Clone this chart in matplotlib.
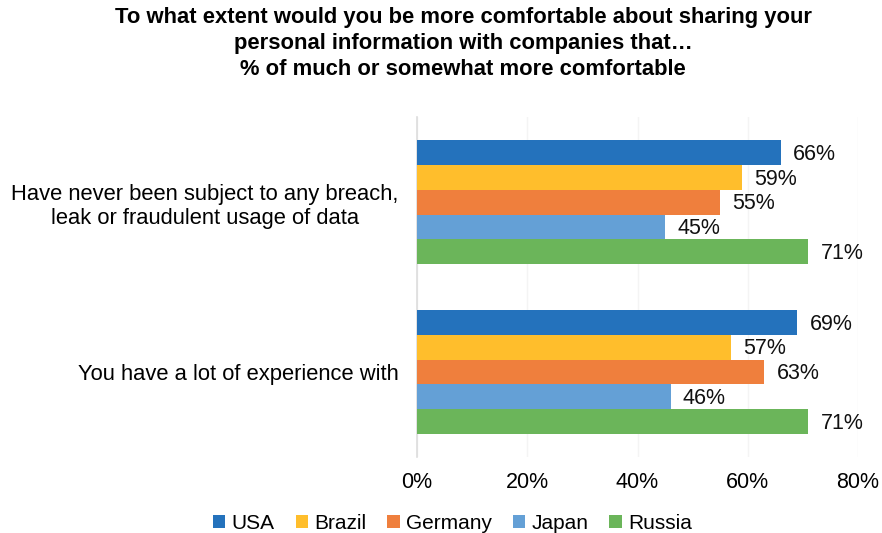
import matplotlib
matplotlib.use('Agg')
import matplotlib.pyplot as plt
import numpy as np
from matplotlib import rcParams

rcParams['font.family'] = ['Liberation Sans', 'DejaVu Sans']

categories = ['Have never been subject to any breach,\nleak or fraudulent usage of data',
              'You have a lot of experience with']
countries = ['USA', 'Brazil', 'Germany', 'Japan', 'Russia']
usa = [66, 69]
brazil = [59, 57]
germany = [55, 63]
japan = [45, 46]
russia = [71, 71]
colors = ['#2472BC', '#FFBE2C', '#EF7F3D', '#64A0D6', '#6BB55A']
xticks = [0, 20, 40, 60, 80]

series = [usa, brazil, germany, japan, russia]

fig = plt.figure(figsize=(8.82, 5.33), dpi=100)
ax = fig.add_axes([0.4728, 0.1426, 0.5, 0.6375])

bar_h = 0.146
y = np.arange(len(categories))
for i, (name, vals) in enumerate(zip(countries, series)):
    pos = y + (i - 2) * bar_h
    ax.barh(pos, vals, height=bar_h, color=colors[i], label=name, zorder=3)
    for p, v in zip(pos, vals):
        ax.text(v + 2.2, p + 0.01, f'{v}%', va='center', ha='left', fontsize=15.5, color='#111111')

ax.set_ylim(1.5, -0.5)
ax.set_xlim(0, 80)
ax.set_xticks(xticks)
ax.set_xticklabels([f'{t}%' for t in xticks], fontsize=15.5)
ax.set_yticks(y)
ax.set_yticklabels(categories, fontsize=15.8)
for lbl in ax.get_yticklabels():
    lbl.set_multialignment('center')
ax.tick_params(axis='both', length=0)
ax.tick_params(axis='x', pad=10.5)
ax.tick_params(axis='y', pad=13.5)
ax.grid(axis='x', color='#F4F4F4', linewidth=1, zorder=0)
for s in ['top', 'right', 'bottom']:
    ax.spines[s].set_visible(False)
ax.spines['left'].set_color('#DDDDDD')
ax.spines['left'].set_linewidth(1.2)

fig.suptitle('To what extent would you be more comfortable about sharing your\n'
             'personal information with companies that\u2026\n'
             '% of much or somewhat more comfortable',
             fontsize=15.8, fontweight='bold', x=0.525, y=0.986, va='top', linespacing=1.3)

leg = fig.legend(loc='lower center', bbox_to_anchor=(0.513, -0.035), ncol=5, frameon=False,
                 fontsize=15, handlelength=0.6, handleheight=0.6, handletextpad=0.3,
                 columnspacing=1.0)

fig.savefig('out.png', dpi=100)
